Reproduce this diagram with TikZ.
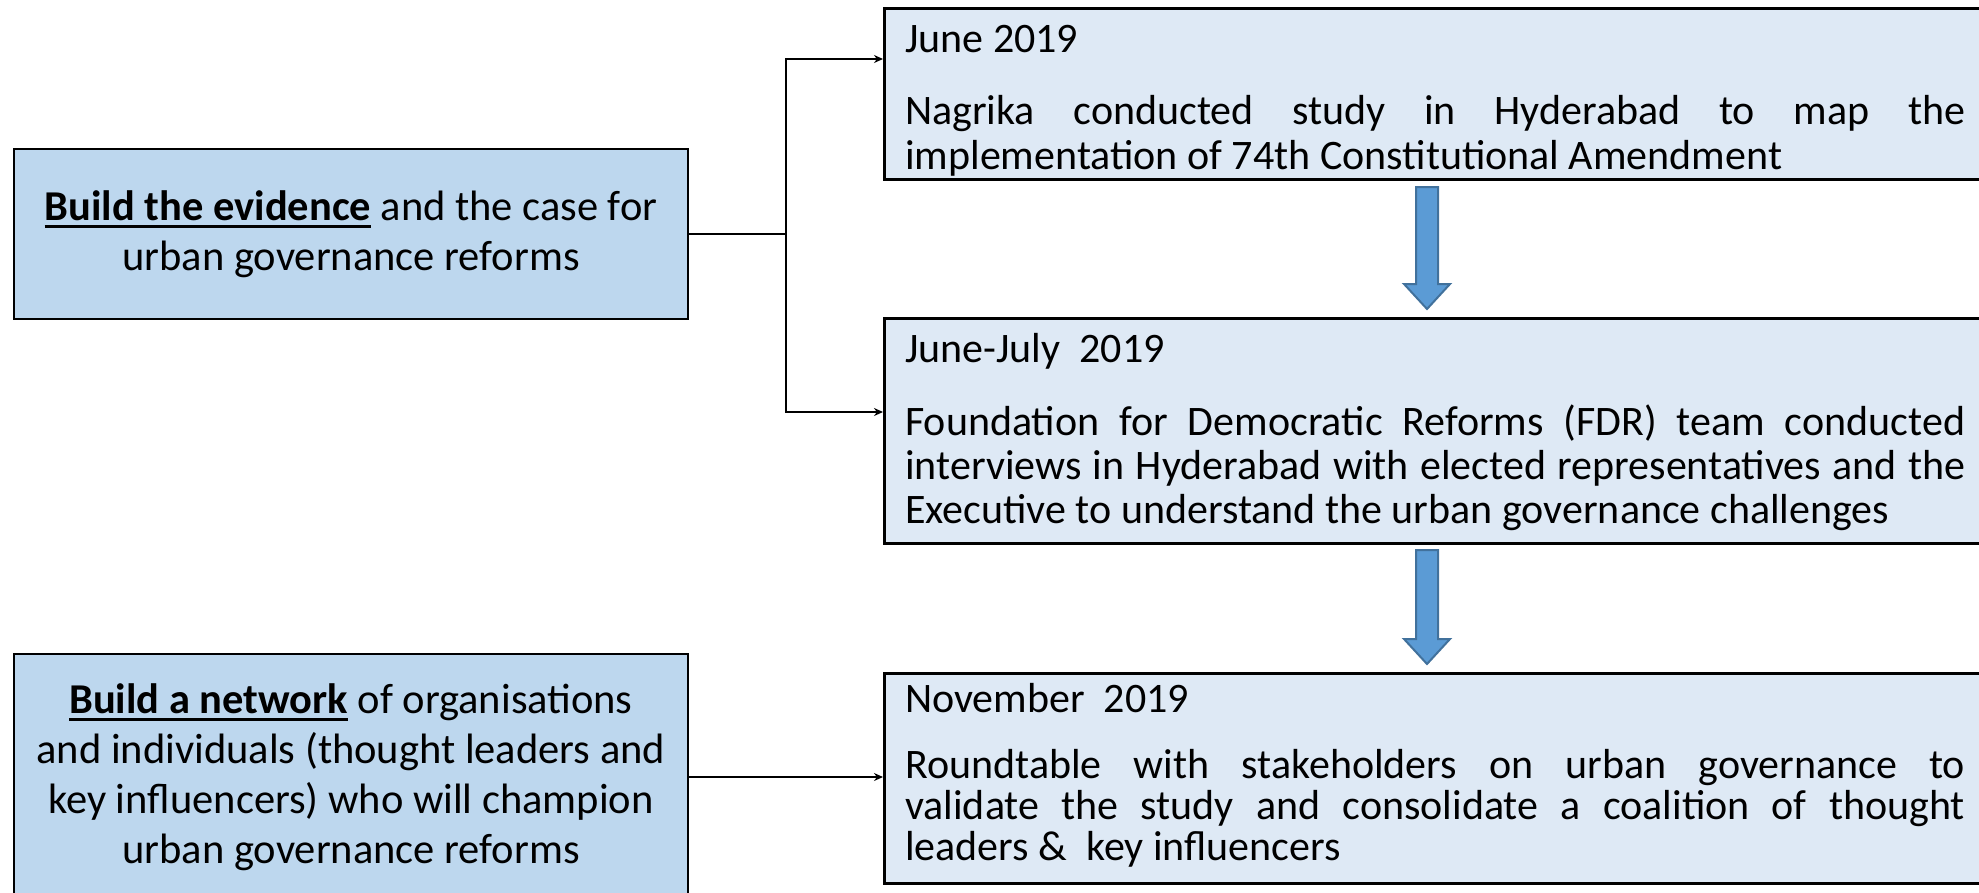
\documentclass[tikz,border=0pt]{standalone}
\usepackage{fontspec}
\setmainfont{Carlito}
\usetikzlibrary{arrows.meta,calc}
\definecolor{leftfill}{HTML}{BDD7EE}
\definecolor{rightfill}{HTML}{DEE9F5}
\definecolor{arrowfill}{HTML}{5B9BD5}
\definecolor{arrowedge}{HTML}{41719C}
% bold words with a heavy underline
\newcommand\boldul[1]{\setbox0\hbox{\textbf{#1}}\rlap{\vrule width\wd0 height -5pt depth 8pt}\box0\relax}
\begin{document}
\begin{tikzpicture}[x=1pt,y=-1pt,
  lbox/.style={draw=black, line width=2.5pt, fill=leftfill, align=center,
    font=\fontsize{42.5}{50}\selectfont, inner sep=0pt, minimum width=674pt},
  rbox/.style={draw=black, line width=2.5pt, fill=rightfill, anchor=north west,
    minimum width=1140pt, inner sep=0pt},
  rtext/.style={anchor=base west, inner sep=0pt},
  link/.style={line width=1.8pt, -{Stealth[length=9pt,width=8pt]}},
  bigarrow/.style={fill=arrowfill, draw=arrowedge, line width=2pt, line join=miter}]
\useasboundingbox (0,0) rectangle (1979,892);
\clip (0,0) rectangle (1979,892);

% goals on the left
\node[lbox, minimum height=170pt] (L1) at (351,234)
  {\boldul{Build the evidence} and the case for\\urban governance reforms};
\node[lbox, minimum height=246pt] (L2) at (351,777)
  {\boldul{Build a network} of organisations\\and individuals (thought leaders and\\key influencers) who will champion\\urban governance reforms};

% timeline on the right
\node[rbox, minimum height=171pt] (R1) at (883,7) {};
\node[rbox, minimum height=225pt] (R2) at (883,317) {};
\node[rbox, minimum height=210pt] (R3) at (883,672) {};

\node[rtext] (t1) at (905,52) {\parbox[t]{1060pt}{\fontsize{42}{45}\selectfont
  \hyphenpenalty=10000 \tolerance=10000
  June 2019\par\vspace{27pt}
  Nagrika conducted study in Hyderabad to map the\linebreak
  implementation of 74th Constitutional Amendment}};
\node[rtext] (t2) at (905,362) {\parbox[t]{1060pt}{\fontsize{42}{44}\selectfont
  \hyphenpenalty=10000 \tolerance=10000
  June-July~ 2019\par\vspace{29pt}
  Foundation for Democratic Reforms (FDR) team conducted\linebreak
  interviews in Hyderabad with elected representatives and the\linebreak
  Executive to understand the urban governance challenges}};
\node[rtext] (t3) at (905,712) {\parbox[t]{1060pt}{\fontsize{42}{41}\selectfont
  \hyphenpenalty=10000 \tolerance=10000
  November~ 2019\par\vspace{25pt}
  Roundtable with stakeholders on urban governance to\linebreak
  validate the study and consolidate a coalition of thought\linebreak
  leaders \&~ key influencers}};

% connectors
\coordinate (j1) at (786,234);
\draw[link] (L1.east) -- (j1) |- ($(R1.north west)+(0,52)$);
\draw[link] (j1) |- ($(R2.north west)+(0,95)$);
\draw[link] (L2.east) -- (L2.east -| R3.west);

% block arrows between the stages
\draw[bigarrow] (1416,187) -- (1438,187) -- (1438,284) -- (1450,284)
  -- (1427,309) -- (1404,284) -- (1416,284) -- cycle;
\draw[bigarrow] (1416,550) -- (1438,550) -- (1438,639) -- (1450,639)
  -- (1427,664) -- (1404,639) -- (1416,639) -- cycle;
\end{tikzpicture}
\end{document}
